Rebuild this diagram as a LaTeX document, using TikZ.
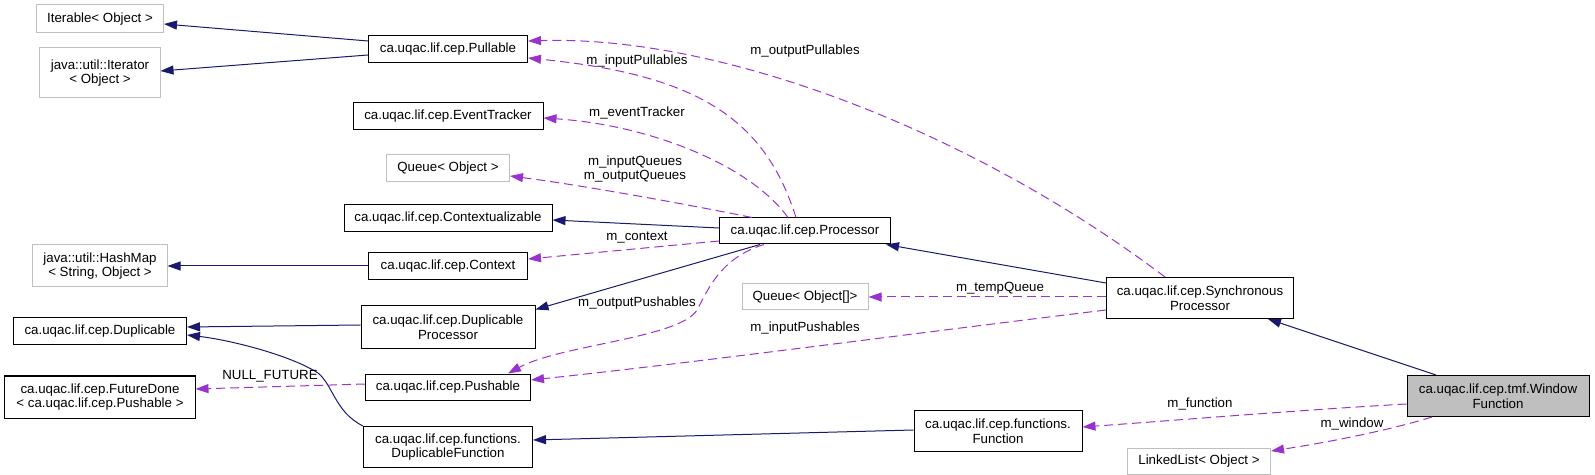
\documentclass[tikz,border=0pt]{standalone}
\usepackage{fontspec}
\setmainfont{Liberation Sans}
\usetikzlibrary{arrows.meta,calc}
\definecolor{navy}{HTML}{191970}
\definecolor{orchid}{HTML}{9A32CD}
\definecolor{boxgray}{HTML}{BFBFBF}
\begin{document}
\begin{tikzpicture}[x=1bp,y=-1bp,
  every node/.style={font=\fontsize{13.3bp}{14.5bp}\selectfont},
  cls/.style={draw=black, line width=1bp, inner sep=0pt, align=center},
  ext/.style={draw=boxgray, line width=1bp, inner sep=0pt, align=center},
  inh/.style={draw=navy, line width=1bp, -{Triangle[length=13bp,width=9bp]}},
  use/.style={draw=orchid, line width=1bp, dash pattern=on 9bp off 5bp, -{Triangle[length=13bp,width=9bp]}},
  lbl/.style={inner sep=0pt, align=center}]
\useasboundingbox (0,0) rectangle (1595,475);
% column 1
\node[ext, minimum width=127bp, minimum height=28bp] (iterable) at (100,19) {Iterable< Object >};
\node[ext, minimum width=120bp, minimum height=50bp] (iterator) at (100,73) {java::util::Iterator\\< Object >};
\node[ext, minimum width=134bp, minimum height=42bp] (hashmap) at (100,266) {java::util::HashMap\\< String, Object >};
\node[cls, minimum width=173bp, minimum height=27bp] (duplicable) at (100,331) {ca.uqac.lif.cep.Duplicable};
\node[cls, minimum width=190bp, minimum height=42bp] (futuredone) at (100,397) {ca.uqac.lif.cep.FutureDone\\< ca.uqac.lif.cep.Pushable >};
% column 2
\node[cls, minimum width=159bp, minimum height=27bp] (pullable) at (448,49) {ca.uqac.lif.cep.Pullable};
\node[cls, minimum width=190bp, minimum height=27bp] (eventtracker) at (448,116) {ca.uqac.lif.cep.EventTracker};
\node[ext, minimum width=123bp, minimum height=27bp] (queueobj) at (448,168) {Queue< Object >};
\node[cls, minimum width=208bp, minimum height=27bp] (contextualizable) at (448,218) {ca.uqac.lif.cep.Contextualizable};
\node[cls, minimum width=159bp, minimum height=27bp] (context) at (448,266) {ca.uqac.lif.cep.Context};
\node[cls, minimum width=174bp, minimum height=42bp] (dupproc) at (448,327) {ca.uqac.lif.cep.Duplicable\\Processor};
\node[cls, minimum width=165bp, minimum height=26bp] (pushable) at (448,387) {ca.uqac.lif.cep.Pushable};
\node[cls, minimum width=169bp, minimum height=41bp] (dupfunc) at (448,447) {ca.uqac.lif.cep.functions.\\DuplicableFunction};
% column 3
\node[cls, minimum width=171bp, minimum height=26bp] (processor) at (805,231) {ca.uqac.lif.cep.Processor};
\node[ext, minimum width=126bp, minimum height=26bp] (queuearr) at (805,297) {Queue< Object[]>};
\node[cls, minimum width=168bp, minimum height=41bp] (function) at (998,431) {ca.uqac.lif.cep.functions.\\Function};
% column 4
\node[cls, minimum width=187bp, minimum height=41bp] (syncproc) at (1200,298) {ca.uqac.lif.cep.Synchronous\\Processor};
\node[ext, minimum width=143bp, minimum height=26bp] (linkedlist) at (1199,461) {LinkedList< Object >};
% column 5
\node[cls, fill=boxgray, minimum width=182bp, minimum height=41bp] (windowfunc) at (1498,396) {ca.uqac.lif.cep.tmf.Window\\Function};

% inheritance edges
\draw[inh] ([yshift=8bp]pullable.west) -- ([yshift=-5bp]iterable.east);
\draw[inh] ([yshift=-6bp]pullable.west) -- ([yshift=2bp]iterator.east);
\draw[inh] ([yshift=3bp]processor.west) -- ([yshift=-2bp]contextualizable.east);
\draw[inh] (context.west) -- (hashmap.east);
\draw[inh] ([xshift=-45bp]processor.south) -- ([yshift=-4bp]dupproc.north east);
\draw[inh] ([yshift=2bp]dupproc.west) -- ([yshift=4bp]duplicable.east);
\draw[inh] (dupfunc.north west) .. controls (335,412) and (333,385) .. (318,373)
  .. controls (290,355) and (230,340) .. ([yshift=-4bp]duplicable.east);
\draw[inh] ([yshift=1bp]function.west) -- ([yshift=7bp]dupfunc.east);
\draw[inh] ([yshift=15bp]syncproc.west) -- ([xshift=81bp]processor.south);
\draw[inh] ([xshift=-62bp]windowfunc.north) -- ([xshift=68bp]syncproc.south);

% usage edges
\draw[use] ([xshift=-9bp]processor.north) .. controls (765,120) and (700,75) .. ([yshift=-9bp]pullable.east);
\node[lbl] (lInPull) at (637,61) {m\_inputPullables};
\draw[use] ([xshift=-35bp]syncproc.north) .. controls (970,130) and (720,35) .. ([yshift=8bp]pullable.east);
\node[lbl] (lOutPull) at (805,51) {m\_outputPullables};
\draw[use] ([xshift=-17bp]processor.north) .. controls (750,165) and (650,125) .. ([yshift=-2bp]eventtracker.east);
\node[lbl] (lEvt) at (637,113) {m\_eventTracker};
\draw[use] ([xshift=-53bp]processor.north) .. controls (680,203) and (580,185) .. ([yshift=-8bp]queueobj.east);
\node[lbl] (lQueues) at (635,169) {m\_inputQueues\\m\_outputQueues};
\draw[use] ([yshift=-10bp]processor.west) -- ([yshift=7bp]context.east);
\node[lbl] (lCtx) at (637,238) {m\_context};
\draw[use] ([xshift=-41bp]processor.south) .. controls (720,258) and (708,290) .. (697,310)
  .. controls (680,338) and (560,345) .. ([xshift=60bp]pushable.north);
\node[lbl] (lOutPush) at (637,303) {m\_outputPushables};
\draw[use] (syncproc.west|-queuearr.east) -- (queuearr.east);
\node[lbl] (lTemp) at (1000,288) {m\_tempQueue};
\draw[use] ([yshift=-12bp]syncproc.west) .. controls (900,335) and (700,362) .. ([yshift=7bp]pushable.east);
\node[lbl] (lInPush) at (805,328) {m\_inputPushables};
\draw[use] ([yshift=-8bp]windowfunc.west) .. controls (1300,410) and (1180,420) .. ([yshift=4bp]function.east);
\node[lbl] (lFunc) at (1200,404) {m\_function};
\draw[use] ([xshift=-66bp]windowfunc.south) .. controls (1390,430) and (1330,442) .. ([yshift=10bp]linkedlist.east);
\node[lbl] (lWin) at (1352,424) {m\_window};
\draw[use] ([yshift=3bp]pushable.west) -- ([yshift=8bp]futuredone.east);
\node[lbl] (lNull) at (270,376) {NULL\_FUTURE};
\end{tikzpicture}
\end{document}
